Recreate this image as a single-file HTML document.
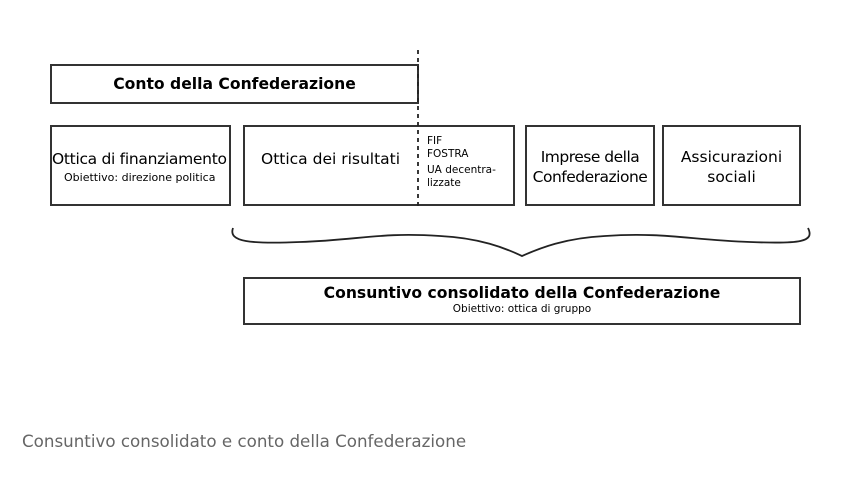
<!DOCTYPE html>
<html><head><meta charset="utf-8"><style>
body{margin:0;width:847px;height:483px;background:#fff;position:relative;font-family:"DejaVu Sans","Liberation Sans",sans-serif;overflow:hidden}
.b{position:absolute;border:2px solid #333;box-sizing:border-box;color:#000;text-align:center}
.t{position:absolute;color:#000;white-space:nowrap}
</style></head><body>
<div class="b" style="left:50px;top:64px;width:369px;height:40px;font-weight:bold;font-size:15.6px;line-height:37px">Conto della Confederazione</div>
<div class="b" style="left:50px;top:125px;width:181px;height:81px"></div>
<div class="t" style="left:52px;top:150px;font-size:15.5px;letter-spacing:-0.3px">Ottica di finanziamento</div>
<div class="t" style="left:64px;top:171px;font-size:11px">Obiettivo: direzione politica</div>
<div class="b" style="left:243px;top:125px;width:272px;height:81px"></div>
<div class="t" style="left:261px;top:150px;font-size:15.5px">Ottica dei risultati</div>
<div class="t" style="left:427px;top:135px;font-size:10.5px;line-height:13px">FIF<br>FOSTRA<br><span style="display:block;margin-top:3px">UA decentra-<br>lizzate</span></div>
<div class="b" style="left:525px;top:125px;width:130px;height:81px;font-size:15.5px;line-height:20px;padding-top:20px;letter-spacing:-0.5px">Imprese della<br>Confederazione</div>
<div class="b" style="left:662px;top:125px;width:139px;height:81px;font-size:15.5px;line-height:20px;padding-top:20px">Assicurazioni<br>sociali</div>
<div class="b" style="left:243px;top:277px;width:558px;height:48px"></div>
<div class="t" style="left:243px;width:558px;text-align:center;top:284px;font-weight:bold;font-size:15.6px">Consuntivo consolidato della Confederazione</div>
<div class="t" style="left:243px;width:558px;text-align:center;top:303px;font-size:10.5px">Obiettivo: ottica di gruppo</div>
<svg style="position:absolute;left:0;top:0" width="847" height="483">
<line x1="418" y1="50" x2="418" y2="206" stroke="#222" stroke-width="1.8" stroke-dasharray="4,4"/>
<path d="M233 228 C228 242 250 244 300 242 C360 240 380 232 440 236 C480 238 505 248 522 256 C540 248 565 238 605 236 C665 232 690 240 750 242 C800 244 815 242 808 228" fill="none" stroke="#222" stroke-width="1.8"/>
</svg>
<div class="t" style="left:22px;top:431px;font-size:16.7px;color:#666">Consuntivo consolidato e conto della Confederazione</div>
</body></html>
